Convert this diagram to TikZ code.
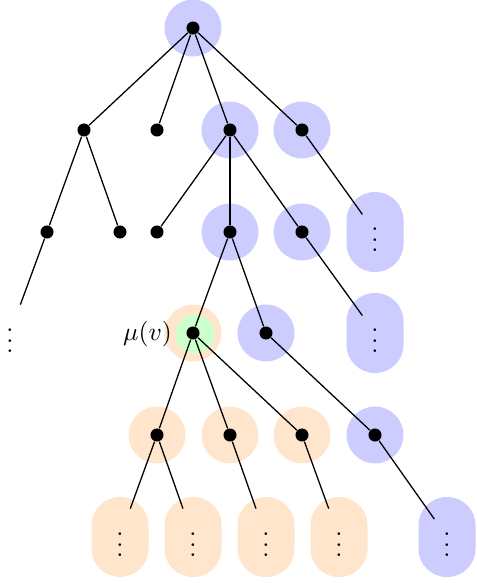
\documentclass[tikz,border=0pt]{standalone}
\begin{document}
\begin{tikzpicture}[x=0.39pt,y=-0.39pt,
  dot/.style={circle,fill=black,inner sep=0pt,minimum size=5.1pt},
  ell/.style={inner sep=3.33pt},
  bluec/.style={fill=blue!20},
  orangec/.style={fill=orange!20},
  greenc/.style={fill=green!20},
  con/.style={line width=0.5pt}]
\useasboundingbox (0,0) rectangle (476,583);
% backgrounds
\foreach \p in {(193,28),(230,130),(302,130),(230,232),(302,232),(266,333),(375,435)}
  \fill[bluec] \p circle[radius=11.1pt];
\foreach \p in {(375,232),(375,333),(447,537)}
  \fill[bluec,rounded corners=11pt] \p ++(-28.5,-40) rectangle ++(57,80);
\foreach \p in {(193,333),(157,435),(230,435),(302,435)}
  \fill[orangec] \p circle[radius=11.1pt];
\foreach \p in {(120,537),(193,537),(266,537),(339,537)}
  \fill[orangec,rounded corners=11pt] \p ++(-28.5,-40) rectangle ++(57,80);
\fill[greenc] (195,334) circle[radius=7.6pt];
% nodes
\node[dot] (r) at (193,28) {};
\node[dot] (a1) at (84,130) {};
\node[dot] (a2) at (157,130) {};
\node[dot] (a3) at (230,130) {};
\node[dot] (a4) at (302,130) {};
\node[dot] (b1) at (47,232) {};
\node[dot] (b2) at (120,232) {};
\node[dot] (b3) at (157,232) {};
\node[dot] (b4) at (230,232) {};
\node[dot] (b5) at (302,232) {};
\node[ell] (b6) at (375,232) {$\vdots$};
\node[ell] (c1) at (10,333) {$\vdots$};
\node[dot] (mu) at (193,333) {};
\node[dot] (c3) at (266,333) {};
\node[ell] (c4) at (375,333) {$\vdots$};
\node[dot] (d1) at (157,435) {};
\node[dot] (d2) at (230,435) {};
\node[dot] (d3) at (302,435) {};
\node[dot] (d4) at (375,435) {};
\node[ell] (e1) at (120,537) {$\vdots$};
\node[ell] (e2) at (193,537) {$\vdots$};
\node[ell] (e3) at (266,537) {$\vdots$};
\node[ell] (e4) at (339,537) {$\vdots$};
\node[ell] (e5) at (447,537) {$\vdots$};
\node[anchor=east] (lab) at (181,334) {$\mu(v)$};
% connectors
\draw[con] (r) -- (a1);
\draw[con] (r) -- (a2);
\draw[con] (r) -- (a3);
\draw[con] (r) -- (a4);
\draw[con] (a1) -- (b1);
\draw[con] (a1) -- (b2);
\draw[con] (a3) -- (b3);
\draw[con] (a3) -- (b4);
\draw[con] (a3) -- (b5);
\draw[con] (a4) -- (b6);
\draw[con] (b1) -- (c1);
\draw[con] (b4) -- (mu);
\draw[con] (b4) -- (c3);
\draw[con] (b5) -- (c4);
\draw[con] (mu) -- (d1);
\draw[con] (mu) -- (d2);
\draw[con] (mu) -- (d3);
\draw[con] (c3) -- (d4);
\draw[con] (d1) -- (e1);
\draw[con] (d1) -- (e2);
\draw[con] (d2) -- (e3);
\draw[con] (d3) -- (e4);
\draw[con] (d4) -- (e5);
\end{tikzpicture}
\end{document}
